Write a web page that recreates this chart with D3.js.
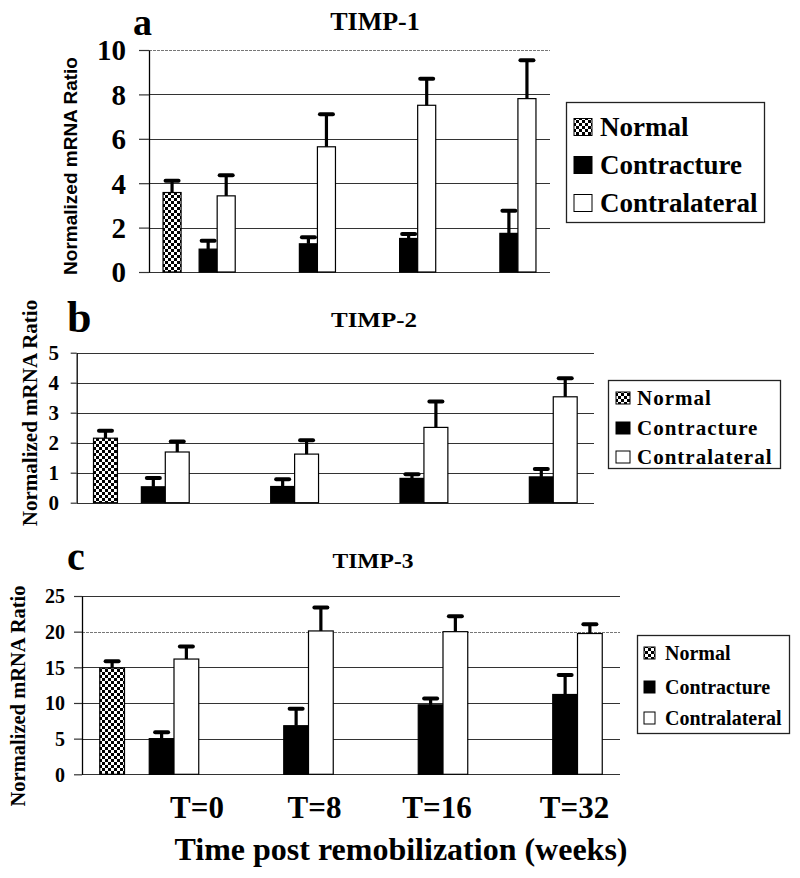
<!DOCTYPE html>
<html><head><meta charset="utf-8">
<script src="https://cdn.jsdelivr.net/npm/d3@7/dist/d3.min.js"></script>
<style>
body{margin:0;background:#fff}svg{display:block}
.serif{font-family:"Liberation Serif","Times New Roman","DejaVu Serif",serif;font-weight:bold}
.sans{font-family:"Liberation Sans",Arial,sans-serif;font-weight:bold}
</style>
</head><body>
<svg id="chart" width="800" height="878"></svg>
<script>
// ---------- DATA ----------
const categories = ["T=0", "T=8", "T=16", "T=32"];
const seriesNames = ["Normal", "Contracture", "Contralateral"];

const timp1Ticks = [0, 2, 4, 6, 8, 10];
const timp1Normal = [3.58, null, null, null];
const timp1NormalErr = [0.53, null, null, null];
const timp1Contracture = [1.03, 1.27, 1.51, 1.74];
const timp1ContractureErr = [0.38, 0.30, 0.20, 1.02];
const timp1Contralateral = [3.43, 5.64, 7.51, 7.81];
const timp1ContralateralErr = [0.93, 1.47, 1.20, 1.73];

const timp2Ticks = [0, 1, 2, 3, 4, 5];
const timp2Normal = [2.15, null, null, null];
const timp2NormalErr = [0.25, null, null, null];
const timp2Contracture = [0.53, 0.54, 0.81, 0.86];
const timp2ContractureErr = [0.29, 0.24, 0.14, 0.26];
const timp2Contralateral = [1.69, 1.62, 2.51, 3.53];
const timp2ContralateralErr = [0.35, 0.46, 0.86, 0.62];

const timp3Ticks = [0, 5, 10, 15, 20, 25];
const timp3Normal = [14.9, null, null, null];
const timp3NormalErr = [0.94, null, null, null];
const timp3Contracture = [5.0, 6.81, 9.74, 11.19];
const timp3ContractureErr = [0.88, 2.38, 0.89, 2.74];
const timp3Contralateral = [16.16, 20.1, 20.0, 19.74];
const timp3ContralateralErr = [1.77, 3.3, 2.16, 1.31];

// ---------- LAYOUT ----------
const panels = [
  { letter: "a", title: "TIMP-1", ticks: timp1Ticks,
    values: [timp1Normal, timp1Contracture, timp1Contralateral],
    errs: [timp1NormalErr, timp1ContractureErr, timp1ContralateralErr],
    x0: 149, x1: 550, y0: 272, yTop: 50, pad: 0.28, tickOut: 10, tickPad: 13, tickFont: 29,
    topDashed: true,
    letterPos: [133, 34.5, 38], titlePos: [375, 30, 26, null],
    ytitle: { x: 70, y: 166, cls: "sans", size: 19 },
    legend: { box: [566, 102, 198, 120], rows: [127, 165, 203], sx: 574, sw: 18, sh: 17, tx: 600, size: 27, ls: 0 } },
  { letter: "b", title: "TIMP-2", ticks: timp2Ticks,
    values: [timp2Normal, timp2Contracture, timp2Contralateral],
    errs: [timp2NormalErr, timp2ContractureErr, timp2ContralateralErr],
    x0: 76.7, x1: 594, y0: 502.7, yTop: 352.7, pad: 0.26, tickOut: 6, tickPad: 11.7, tickFont: 21,
    topDashed: false,
    letterPos: [67, 332, 44], titlePos: [374, 327, 21, 86],
    ytitle: { x: 30, y: 413, cls: "serif", size: 21 },
    legend: { box: [608, 380, 172, 88], rows: [398, 428, 457], sx: 616, sw: 14, sh: 12, tx: 637, size: 21, ls: 1 } },
  { letter: "c", title: "TIMP-3", ticks: timp3Ticks,
    values: [timp3Normal, timp3Contracture, timp3Contralateral],
    errs: [timp3NormalErr, timp3ContractureErr, timp3ContralateralErr],
    x0: 82, x1: 620, y0: 774.3, yTop: 596, pad: 0.264, tickOut: 8, tickPad: 9, tickFont: 20,
    topDashed: false, dashedValue: 20,
    letterPos: [67, 570, 40], titlePos: [373, 568, 22, 81],
    ytitle: { x: 18, y: 696, cls: "serif", size: 20.5 },
    legend: { box: [637, 635, 152, 98], rows: [653, 687, 718], sx: 644, sw: 11, sh: 12, tx: 665, size: 20, ls: 0 } }
];

const svg = d3.select("#chart");
const defs = svg.append("defs");
const pat = defs.append("pattern").attr("id", "checker")
  .attr("patternUnits", "userSpaceOnUse").attr("width", 6).attr("height", 6);
pat.append("rect").attr("width", 6).attr("height", 6).attr("fill", "#fff");
pat.append("rect").attr("width", 3).attr("height", 3).attr("fill", "#000");
pat.append("rect").attr("x", 3).attr("y", 3).attr("width", 3).attr("height", 3).attr("fill", "#000");

const fills = ["url(#checker)", "#000", "#fff"];
const slotDomain = ["Normal", "_gap", "Contracture", "Contralateral"];

let lastX = null;

panels.forEach(p => {
  const g = svg.append("g");
  const x = d3.scaleBand().domain(categories).range([p.x0, p.x1])
    .paddingInner(p.pad).paddingOuter(p.pad / 2);
  const slot = d3.scaleBand().domain(slotDomain).range([0, x.bandwidth()]);
  const y = d3.scaleLinear().domain([p.ticks[0], p.ticks[p.ticks.length - 1]]).range([p.y0, p.yTop]);
  const isDashed = d => (p.topDashed && d === p.ticks[p.ticks.length - 1]) || d === p.dashedValue;

  // gridlines
  g.append("g").selectAll("line").data(p.ticks).join("line")
    .attr("x1", p.x0).attr("x2", p.x1)
    .attr("y1", d => Math.round(y(d)) + 0.5).attr("y2", d => Math.round(y(d)) + 0.5)
    .attr("stroke", d => isDashed(d) ? "#777" : "#333")
    .attr("stroke-dasharray", d => isDashed(d) ? "3,1" : null)
    .attr("stroke-width", 1.2);

  // y axis
  const ax = g.append("g").attr("transform", `translate(${p.x0},0)`)
    .call(d3.axisLeft(y).tickValues(p.ticks).tickFormat(d3.format("d"))
      .tickSizeInner(p.tickOut).tickSizeOuter(0).tickPadding(p.tickPad));
  ax.attr("font-family", null).attr("font-size", null);
  ax.select(".domain").attr("stroke", "#000").attr("stroke-width", 1.3);
  ax.selectAll(".tick line").attr("stroke", "#333").attr("stroke-width", 1.2);
  ax.selectAll(".tick text").attr("class", "serif").attr("dy", null)
    .attr("y", p.tickFont * 0.34)
    .style("font-size", p.tickFont + "px").attr("fill", "#000");

  // bars
  seriesNames.forEach((s, si) => {
    const vals = p.values[si], errs = p.errs[si];
    const data = categories.map((c, i) => ({ c, v: vals[i], e: errs[i] })).filter(d => d.v != null);
    const bx = d => x(d.c) + slot(s);
    g.append("g").selectAll("rect").data(data).join("rect")
      .attr("x", bx).attr("y", d => y(d.v))
      .attr("width", slot.bandwidth()).attr("height", d => y(0) - y(d.v))
      .attr("fill", fills[si]).attr("stroke", "#000").attr("stroke-width", 1.2);
    const eg = g.append("g");
    eg.selectAll("line.v").data(data).join("line").attr("class", "v")
      .attr("x1", d => bx(d) + slot.bandwidth() / 2).attr("x2", d => bx(d) + slot.bandwidth() / 2)
      .attr("y1", d => y(d.v)).attr("y2", d => y(d.v + d.e))
      .attr("stroke", "#000").attr("stroke-width", 3.2);
    eg.selectAll("line.c").data(data).join("line").attr("class", "c")
      .attr("x1", d => bx(d) + slot.bandwidth() / 2 - 6.5).attr("x2", d => bx(d) + slot.bandwidth() / 2 + 6.5)
      .attr("y1", d => y(d.v + d.e)).attr("y2", d => y(d.v + d.e))
      .attr("stroke", "#000").attr("stroke-width", 4).attr("stroke-linecap", "round");
  });

  // panel letter
  g.append("text").attr("class", "serif").attr("x", p.letterPos[0]).attr("y", p.letterPos[1])
    .style("font-size", p.letterPos[2] + "px").text(p.letter);
  // title
  const t = g.append("text").attr("class", "serif").attr("x", p.titlePos[0]).attr("y", p.titlePos[1])
    .attr("text-anchor", "middle").style("font-size", p.titlePos[2] + "px").text(p.title);
  if (p.titlePos[3]) t.attr("textLength", p.titlePos[3]).attr("lengthAdjust", "spacingAndGlyphs");

  // y title
  const capShift = (p.ytitle.cls === "sans" ? 0.36 : 0.33) * p.ytitle.size;
  g.append("text").attr("class", p.ytitle.cls)
    .attr("transform", `translate(${p.ytitle.x + capShift},${p.ytitle.y}) rotate(-90)`)
    .attr("text-anchor", "middle")
    .style("font-size", p.ytitle.size + "px")
    .text("Normalized mRNA Ratio");

  // legend
  const L = p.legend;
  const lg = g.append("g");
  lg.append("rect").attr("x", L.box[0] + 0.5).attr("y", L.box[1] + 0.5).attr("width", L.box[2]).attr("height", L.box[3])
    .attr("fill", "#fff").attr("stroke", "#222").attr("stroke-width", 1.3);
  seriesNames.forEach((s, si) => {
    lg.append("rect").attr("x", L.sx).attr("y", L.rows[si] - L.sh / 2).attr("width", L.sw).attr("height", L.sh)
      .attr("fill", fills[si]).attr("stroke", "#000").attr("stroke-width", 1);
    lg.append("text").attr("class", "serif").attr("x", L.tx).attr("y", L.rows[si] + L.size * 0.33)
      .style("font-size", L.size + "px").style("letter-spacing", L.ls + "px").text(s);
  });

  lastX = x;
});

// category labels (bottom panel)
const labelNudge = [23, 6, -6, -3];
svg.append("g").selectAll("text").data(categories).join("text")
  .attr("class", "serif")
  .attr("x", (d, i) => lastX(d) + lastX.bandwidth() * 0.75 + labelNudge[i])
  .attr("y", 818).attr("text-anchor", "middle").style("font-size", "31px")
  .text(d => d);

svg.append("text").attr("class", "serif").attr("x", 401).attr("y", 860).attr("text-anchor", "middle")
  .style("font-size", "32px").text("Time post remobilization (weeks)");
</script>
</body></html>
